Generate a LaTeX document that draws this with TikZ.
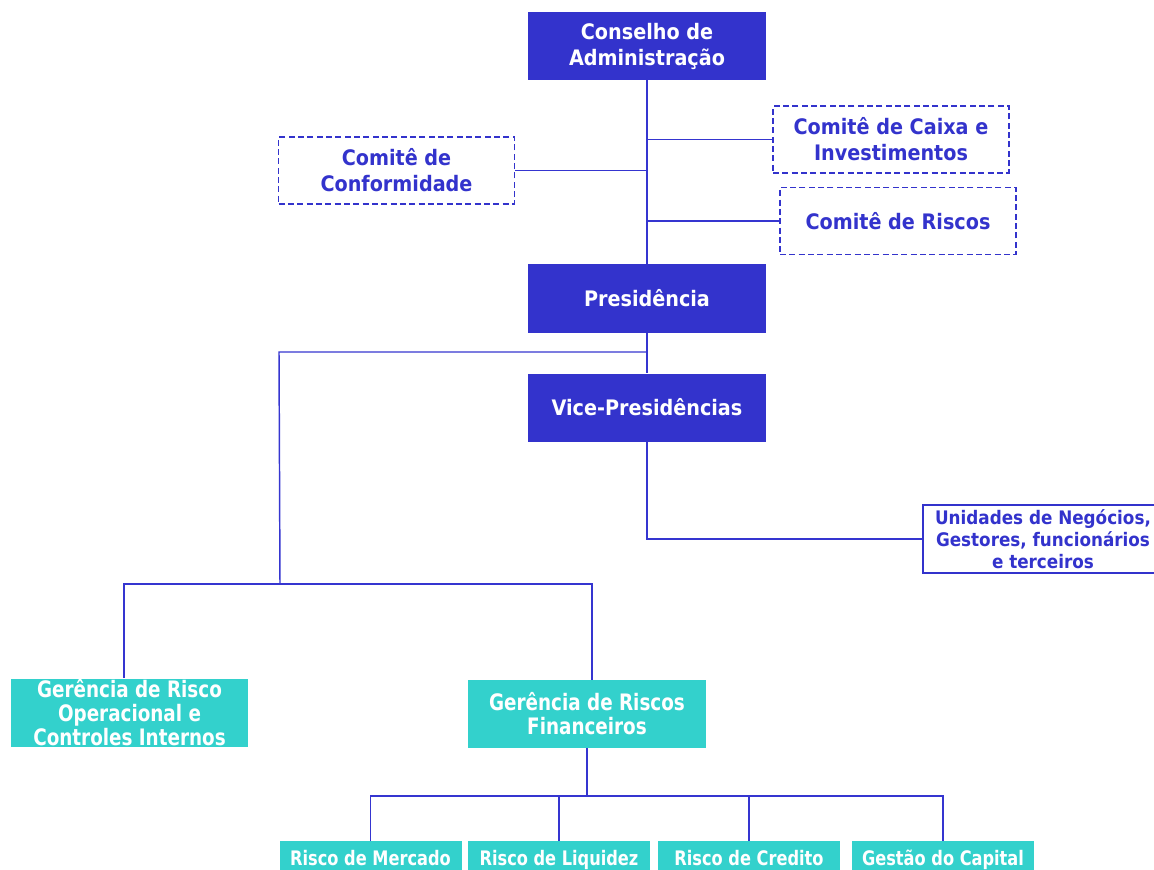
\documentclass[tikz,border=0pt]{standalone}
\usepackage{fontspec}
\setmainfont{DejaVu Sans Condensed}[BoldFont={DejaVu Sans Condensed Bold}]
\newfontfamily\cyanfont{DejaVu Sans Condensed Bold}[FakeStretch=0.9]
\definecolor{dblue}{HTML}{3333CC}
\definecolor{lblue}{HTML}{3535D0}
\definecolor{cyanbox}{HTML}{33D1CC}
\begin{document}
\begin{tikzpicture}[x=0.75pt,y=-0.75pt,
  bluebox/.style={fill=dblue,draw=none,text=white,font=\bfseries\fontsize{16}{19.5}\selectfont,align=center,minimum width=178.5pt,minimum height=51pt,inner sep=0pt},
  dashbox/.style={draw=dblue,dash pattern=on 4.5pt off 2.5pt,line width=1.1pt,text=dblue,font=\bfseries\fontsize{16}{19.5}\selectfont,align=center,minimum width=177pt,minimum height=50pt,inner sep=0pt},
  cybox/.style={fill=cyanbox,draw=none,text=white,font=\cyanfont\fontsize{17}{18}\selectfont,align=center,minimum width=178pt,minimum height=51pt,inner sep=0pt},
  smallcy/.style={fill=cyanbox,draw=none,text=white,font=\cyanfont\fontsize{15}{16}\selectfont,align=center,minimum width=136.5pt,minimum height=28.5pt,inner sep=0pt,text height=11pt,text depth=3pt},
  conn/.style={draw=lblue,line width=1.3pt},
  thin/.style={draw=lblue,line width=1.1pt}]
\useasboundingbox (0,0) rectangle (1154,870);
\clip (0,0) rectangle (1154,870);
\node[bluebox] (cons) at (647,46) {Conselho de\\Administração};
\node[dashbox] (conf) at (396.5,170.5) {Comitê de\\Conformidade};
\node[dashbox] (caixa) at (891,139.5) {Comitê de Caixa e\\Investimentos};
\node[dashbox] (risc) at (898,221) {Comitê de Riscos};
\node[bluebox] (pres) at (647,298.5) {Presidência};
\node[bluebox] (vice) at (647,407.5) {Vice-Presidências};
\node[draw=dblue,line width=1.1pt,text=dblue,font=\bfseries\fontsize{14}{16.5}\selectfont,align=center,minimum width=180pt,minimum height=51pt,inner sep=0pt] (uni) at (1043,539) {Unidades de Negócios,\\Gestores, funcionários\\e terceiros};
\node[cybox] (go) at (129.5,712.5) {Gerência de Risco\\Operacional e\\Controles Internos};
\node[cybox] (gf) at (587,714) {Gerência de Riscos\\Financeiros};
\node[smallcy] (rm) at (370.5,860) {Risco de Mercado};
\node[smallcy] (rl) at (559,860) {Risco de Liquidez};
\node[smallcy] (rc) at (749,860) {Risco de Credito};
\node[smallcy] (gc) at (943,860) {Gestão do Capital};
\coordinate (tl) at (279,352);
\coordinate (bl) at (280,584);
\coordinate (b1l) at (124,584);
\coordinate (b1r) at (592,584);
\coordinate (b2) at (587,796);
% main spine
\draw[conn,line width=1.8pt] (cons.south) -- (pres.north);
\draw[conn,line width=1.8pt] (pres.south) -- (vice.north);
\draw[conn] (conf.east) -- (conf.east -| cons.south);
\draw[conn] (caixa.west) -- (caixa.west -| cons.south);
\draw[conn] (risc.west) -- (risc.west -| cons.south);
\draw[conn] (vice.south) |- (uni.west);
% left branch
\draw[thin] (pres.south |- tl) -- (tl) -- (bl);
\draw[thin] (go.north -| b1l) -- (b1l) -- (b1r) -- (gf.north -| b1r);
% bottom
\draw[thin] (gf.south) -- (b2);
\draw[thin] (rm.north) |- (b2);
\draw[thin] (rl.north) |- (b2);
\draw[thin] (rc.north) |- (b2);
\draw[thin] (gc.north) |- (b2);
\end{tikzpicture}
\end{document}
